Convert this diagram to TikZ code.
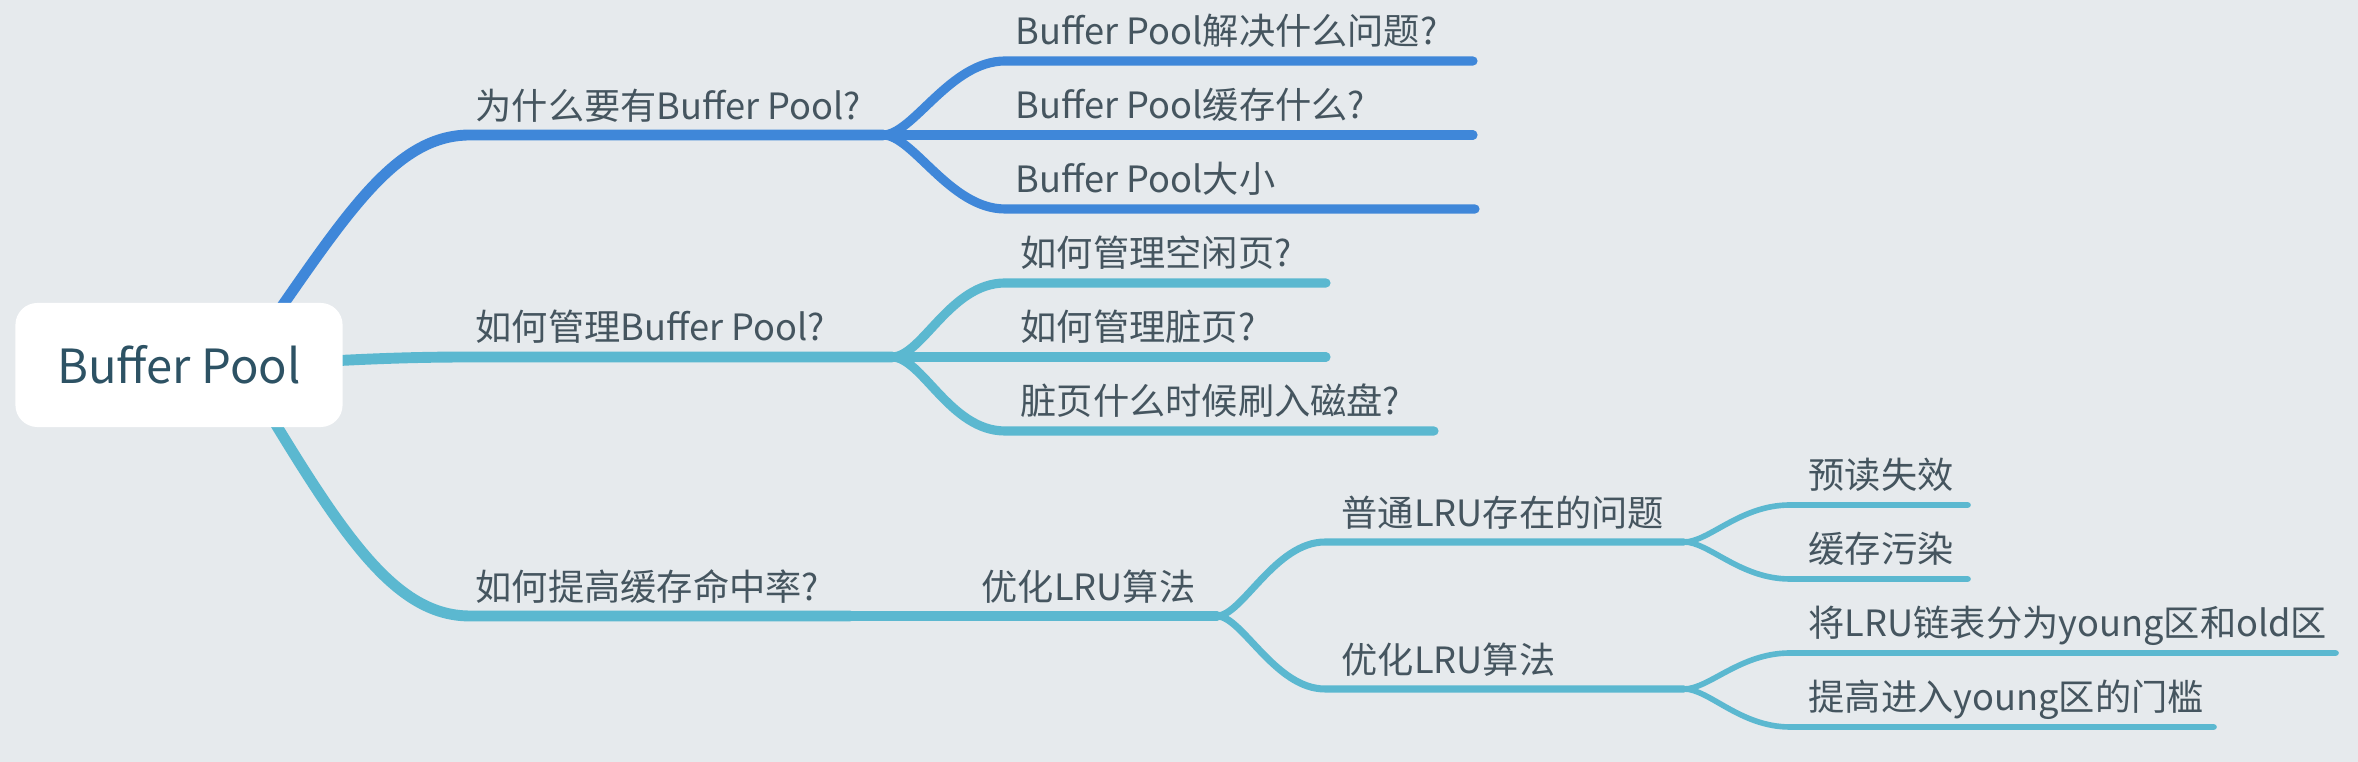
\documentclass[tikz,border=0pt]{standalone}
\usepackage{fontspec}
\setmainfont{Noto Sans CJK SC}
\usepackage{tikz}
\usetikzlibrary{calc}

\definecolor{bgcol}{HTML}{E6EAED}
\definecolor{blueline}{HTML}{3F87D9}
\definecolor{cyanline}{HTML}{5BB8D0}
\definecolor{labeltext}{HTML}{45555F}
\definecolor{roottext}{HTML}{2D5264}

\pgfdeclarelayer{back}
\pgfsetlayers{back,main}

\tikzset{
    rootbox/.style={fill=white, rounded corners=0.22cm, minimum width=3.27cm, minimum height=1.24cm, inner sep=0pt, text=roottext, font=\fontsize{13.4pt}{16pt}\selectfont},
    topic/.style={anchor=base west, inner sep=0pt, text=labeltext, font=\fontsize{10.3pt}{12pt}\selectfont},
    lvlone/.style={line width=3.1pt, line cap=round, line join=round},
    lvltwo/.style={line width=2.6pt, line cap=round, line join=round},
    lvlthree/.style={line width=2pt, line cap=round, line join=round},
    lvlfour/.style={line width=1.6pt, line cap=round, line join=round},
}

\begin{document}
\begin{tikzpicture}[x=0.01cm, y=-0.01cm]
    \useasboundingbox (0,0) rectangle (2358,762);

    % Root
    \node (root) [rootbox] at (179,365) {Buffer Pool};

    % Branch points
    \coordinate (r1) at ($(root.center)+(62,0)$);
    \coordinate (r2) at ($(root.center)+(100,-1)$);
    \coordinate (r3) at ($(root.center)+(61,0)$);
    \coordinate (s1) at (470,135);   \coordinate (f1) at (883,135);
    \coordinate (s2) at (470,357);   \coordinate (f2) at (892,357);
    \coordinate (s3) at (470,616);   \coordinate (e3) at (850,616);
    \coordinate (f3) at (1217,616);
    \coordinate (f4) at (1684,542);
    \coordinate (f5) at (1684,689);

    % Underline ends
    \coordinate (a11) at (1005,61);  \coordinate (b11) at (1473,61);
    \coordinate (b12) at (1473,135);
    \coordinate (a13) at (1005,209); \coordinate (b13) at (1475,209);
    \coordinate (a21) at (1005,283); \coordinate (b21) at (1326,283);
    \coordinate (b22) at (1326,357);
    \coordinate (a23) at (1005,431); \coordinate (b23) at (1434,431);
    \coordinate (a31) at (1325,542);
    \coordinate (a32) at (1325,689);
    \coordinate (a41) at (1790,505); \coordinate (b41) at (1968,505);
    \coordinate (a42) at (1790,579); \coordinate (b42) at (1968,579);
    \coordinate (a51) at (1790,653); \coordinate (b51) at (2336,653);
    \coordinate (a52) at (1790,727); \coordinate (b52) at (2214,727);

    \begin{pgfonlayer}{back}
    \fill [bgcol] (0,0) rectangle (2358,762);

    % Why a Buffer Pool
    \draw [lvlone, blueline] (r1) .. controls (340,225) and (390,135) .. (s1) -- (f1);
    \draw [lvltwo, blueline] (f1) .. controls +(30,0) and +(-55,0) .. (a11) -- (b11);
    \draw [lvltwo, blueline] (f1) -- (b12);
    \draw [lvltwo, blueline] (f1) .. controls +(30,0) and +(-55,0) .. (a13) -- (b13);

    % Managing the Buffer Pool
    \draw [lvlone, cyanline] (r2) .. controls +(80,-5) and +(-60,0) .. (s2) -- (f2);
    \draw [lvltwo, cyanline] (f2) .. controls +(30,0) and +(-55,0) .. (a21) -- (b21);
    \draw [lvltwo, cyanline] (f2) -- (b22);
    \draw [lvltwo, cyanline] (f2) .. controls +(30,0) and +(-55,0) .. (a23) -- (b23);

    % Hit rate
    \draw [lvlone, cyanline] (r3) .. controls (336,525) and (390,616) .. (s3) -- (e3);
    \draw [lvltwo, cyanline] (e3) -- (f3);
    \draw [lvlthree, cyanline] (f3) .. controls +(25,0) and +(-50,0) .. (a31) -- (f4);
    \draw [lvlthree, cyanline] (f3) .. controls +(25,0) and +(-50,0) .. (a32) -- (f5);
    \draw [lvlfour, cyanline] (f4) .. controls +(25,0) and +(-50,0) .. (a41) -- (b41);
    \draw [lvlfour, cyanline] (f4) .. controls +(25,0) and +(-50,0) .. (a42) -- (b42);
    \draw [lvlfour, cyanline] (f5) .. controls +(25,0) and +(-50,0) .. (a51) -- (b51);
    \draw [lvlfour, cyanline] (f5) .. controls +(25,0) and +(-50,0) .. (a52) -- (b52);
    \end{pgfonlayer}

    % Labels
    \node (t1) [topic] at (475,120) {为什么要有Buffer Pool?};
    \node (t11) [topic] at (1015,45) {Buffer Pool解决什么问题?};
    \node (t12) [topic] at (1015,119) {Buffer Pool缓存什么?};
    \node (t13) [topic] at (1015,193) {Buffer Pool大小};

    \node (t2) [topic] at (475,341) {如何管理Buffer Pool?};
    \node (t21) [topic] at (1020,267) {如何管理空闲页?};
    \node (t22) [topic] at (1020,341) {如何管理脏页?};
    \node (t23) [topic] at (1020,415) {脏页什么时候刷入磁盘?};

    \node (t3) [topic] at (475,601) {如何提高缓存命中率?};
    \node (t31) [topic] at (981,601) {优化LRU算法};
    \node (t4) [topic] at (1341,527) {普通LRU存在的问题};
    \node (t5) [topic] at (1341,674) {优化LRU算法};
    \node (t41) [topic] at (1808,489) {预读失效};
    \node (t42) [topic] at (1808,563) {缓存污染};
    \node (t51) [topic] at (1808,637) {将LRU链表分为young区和old区};
    \node (t52) [topic] at (1808,711) {提高进入young区的门槛};

\end{tikzpicture}
\end{document}
